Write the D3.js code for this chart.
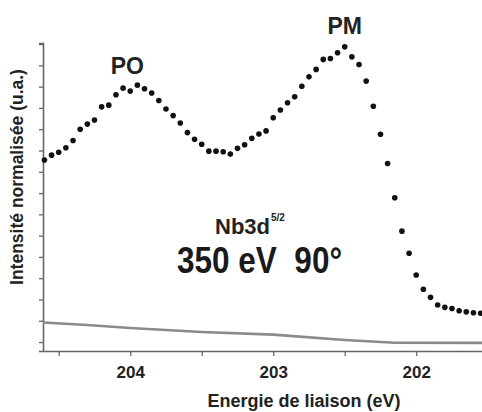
<!DOCTYPE html>
<html>
<head>
<meta charset="utf-8">
<script src="https://cdn.jsdelivr.net/npm/d3@7"></script>
<style>
  html, body { margin: 0; padding: 0; background: #fff; }
  svg { display: block; }
  text { font-family: "Liberation Sans", Arial, sans-serif; }
</style>
</head>
<body>
<svg id="chart" width="482" height="412"></svg>
<script>
// Binding energy (eV) of each measured point
const energies = [
  204.60, 204.55, 204.50, 204.45, 204.40, 204.35, 204.30, 204.25, 204.20, 204.15,
  204.10, 204.05, 204.00, 203.95, 203.90, 203.85, 203.80, 203.75, 203.70, 203.65,
  203.60, 203.55, 203.50, 203.45, 203.40, 203.35, 203.30, 203.25, 203.20, 203.15,
  203.10, 203.05, 203.00, 202.95, 202.90, 202.85, 202.80, 202.75, 202.70, 202.65,
  202.60, 202.55, 202.50, 202.45, 202.40, 202.35, 202.30, 202.25, 202.20, 202.15,
  202.10, 202.05, 202.00, 201.95, 201.90, 201.85, 201.80, 201.75, 201.70, 201.65,
  201.60, 201.55
];
// Normalised intensity (a.u.)
const intensities = [
  8.55, 8.78, 8.92, 9.13, 9.47, 10.00, 10.24, 10.43, 11.05, 11.13,
  11.62, 11.93, 11.79, 12.07, 11.90, 11.70, 11.35, 10.95, 10.64, 10.29,
  9.84, 9.53, 9.29, 8.97, 8.97, 8.94, 8.83, 9.10, 9.27, 9.57,
  9.77, 9.92, 10.54, 10.90, 11.24, 11.52, 12.02, 12.46, 12.81, 13.28,
  13.32, 13.59, 13.87, 13.40, 13.04, 12.26, 11.08, 9.76, 8.39, 6.78,
  5.21, 4.17, 3.15, 2.48, 2.10, 1.74, 1.63, 1.58, 1.47, 1.42,
  1.38, 1.35
];
// Background (grey line)
const bgEnergies = [204.61, 204.30, 204.00, 203.50, 203.00, 202.50, 202.15, 201.54];
const bgValues   = [0.92, 0.80, 0.66, 0.47, 0.35, 0.10, -0.03, -0.04];

const xTickValues = [204.5, 204, 203.5, 203, 202.5, 202];
const xTickLabels = {"204": "204", "203": "203", "202": "202"};
const yTickValues = [0,1,2,3,4,5,6,7,8,9,10,11,12,13,14];

const xTitle = "Energie de liaison (eV)";
const yTitle = "Intensité normalisée (u.a.)";
const peakLabels = [
  {text: "PO", e: 204.02, v: 12.6},
  {text: "PM", e: 202.50, v: 14.45}
];

const svg = d3.select("#chart");
const x = d3.scaleLinear().domain([204.61, 201.54]).range([43, 482]);
const y = d3.scaleLinear().domain([-0.42, 14.05]).range([351, 43]);

const axisColor = "#666";

// Y axis
const yAxis = svg.append("g")
  .attr("transform", `translate(${x(204.61)},0)`)
  .call(d3.axisLeft(y).tickValues(yTickValues).tickSize(4).tickFormat(""));
yAxis.select(".domain").attr("stroke", axisColor).attr("stroke-width", 1.6);
yAxis.selectAll(".tick line").attr("stroke", axisColor).attr("stroke-width", 1.3);

// X axis
const xAxis = svg.append("g")
  .attr("transform", `translate(0,${y(-0.42)})`)
  .call(d3.axisBottom(x).tickValues(xTickValues).tickSize(5).tickSizeOuter(0)
    .tickFormat(d => xTickLabels[String(d)] || ""));
xAxis.select(".domain").attr("stroke", axisColor).attr("stroke-width", 1.6);
xAxis.selectAll(".tick line").attr("stroke", axisColor).attr("stroke-width", 1.3);
xAxis.selectAll(".tick text")
  .attr("fill", "#222")
  .attr("font-size", 17)
  .attr("font-weight", "bold")
  .attr("dy", null)
  .attr("y", 27);

// Background line
const line = d3.line().x(d => x(d[0])).y(d => y(d[1]));
svg.append("path")
  .datum(bgEnergies.map((e, i) => [e, bgValues[i]]))
  .attr("d", line)
  .attr("fill", "none")
  .attr("stroke", "#8a8a8a")
  .attr("stroke-width", 2.6);

// Data points
svg.append("g").selectAll("circle")
  .data(energies.map((e, i) => [e, intensities[i]]))
  .join("circle")
  .attr("cx", d => x(d[0]))
  .attr("cy", d => y(d[1]))
  .attr("r", 2.8)
  .attr("fill", "#111");

// Peak labels
svg.append("g").selectAll("text")
  .data(peakLabels)
  .join("text")
  .attr("x", d => x(d.e))
  .attr("y", d => y(d.v))
  .attr("text-anchor", "middle")
  .attr("font-size", 23)
  .attr("font-weight", "bold")
  .attr("fill", "#222")
  .text(d => d.text);

// Annotation
const nb = svg.append("text")
  .attr("x", 215).attr("y", 234)
  .attr("font-size", 22).attr("font-weight", "bold").attr("fill", "#222");
nb.append("tspan").text("Nb3d");
nb.append("tspan").attr("font-size", 10).attr("dy", -13).attr("dx", 1).text("5/2");

svg.append("text")
  .attr("x", 177).attr("y", 273)
  .attr("font-size", 37).attr("font-weight", "bold").attr("fill", "#1a1a1a")
  .attr("textLength", 165).attr("lengthAdjust", "spacingAndGlyphs")
  .attr("xml:space", "preserve")
  .text("350 eV  90°");

// Axis titles
svg.append("text")
  .attr("x", 304).attr("y", 407)
  .attr("text-anchor", "middle")
  .attr("font-size", 18).attr("font-weight", "bold").attr("fill", "#222")
  .text(xTitle);

svg.append("text")
  .attr("transform", "translate(23,177) rotate(-90)")
  .attr("text-anchor", "middle")
  .attr("font-size", 17.5).attr("font-weight", "bold").attr("fill", "#222")
  .text(yTitle);
</script>
</body>
</html>
